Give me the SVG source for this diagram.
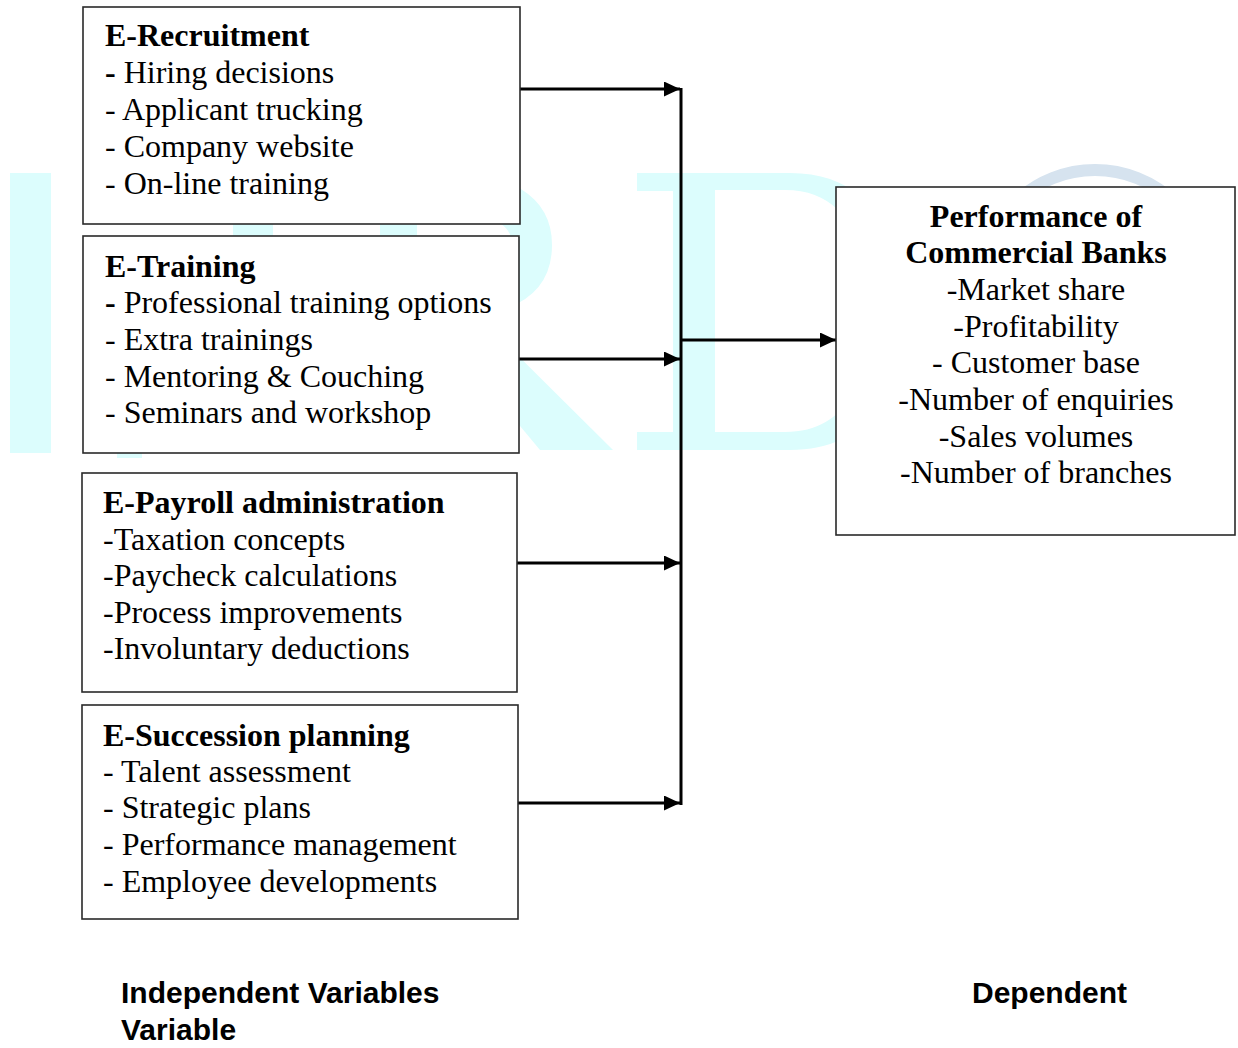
<svg xmlns="http://www.w3.org/2000/svg" width="1238" height="1048" viewBox="0 0 1238 1048">
  <style>
    .box { fill: #ffffff; stroke: #2a2a2a; stroke-width: 1.6; }
    .t { font-family: "Liberation Serif", "Times New Roman", serif; font-size: 32px; fill: #000; }
    .b { font-weight: bold; }
    .c { text-anchor: middle; }
    .lbl { font-family: "Liberation Sans", Arial, sans-serif; font-size: 30px; font-weight: bold; fill: #000; }
    .conn { stroke: #000; stroke-width: 3; fill: none; }
    .wm { fill: #dcfdfd; }
  </style>
  <defs>
    <marker id="arrow" markerUnits="userSpaceOnUse" markerWidth="17" markerHeight="16" refX="16" refY="7.5" orient="auto">
      <path d="M0,0 L16,7.5 L0,15 Z" fill="#000"/>
    </marker>
  </defs>
  <rect x="0" y="0" width="1238" height="1048" fill="#ffffff"/>

  <!-- background watermark -->
  <g id="watermark">
    <rect class="wm" x="10" y="173" width="41" height="280"/>
    <rect class="wm" x="233" y="176" width="40" height="70"/>
    <rect class="wm" x="380" y="176" width="37" height="70"/>
    <rect class="wm" x="117" y="440" width="25" height="18"/>
    <path d="M440 192 C505 192 532 212 532 245 C532 280 505 298 440 298" fill="none" stroke="#dcfdfd" stroke-width="40"/>
    <polygon class="wm" points="440,300 462,300 613,450 540,450 440,330"/>
    <path class="wm" fill-rule="evenodd" d="M637 173 L790 173 C870 173 905 235 905 311 C905 390 870 450 790 450 L637 450 L637 432 L673 432 L673 191 L637 191 Z M715 190 L785 190 C850 190 870 250 870 311 C870 375 850 432 785 432 L715 432 Z"/>
    <circle cx="1095" cy="285" r="115" fill="none" stroke="#d6e3ef" stroke-width="12"/>
  </g>

  <g id="connectors">
    <line class="conn" x1="681" y1="88" x2="681" y2="805" stroke-width="2.5"/>
    <line class="conn" x1="520" y1="89" x2="680" y2="89" marker-end="url(#arrow)"/>
    <line class="conn" x1="519" y1="359" x2="680" y2="359" marker-end="url(#arrow)"/>
    <line class="conn" x1="517" y1="563" x2="680" y2="563" marker-end="url(#arrow)"/>
    <line class="conn" x1="518" y1="803" x2="680" y2="803" marker-end="url(#arrow)"/>
    <line class="conn" x1="681" y1="340" x2="836" y2="340" marker-end="url(#arrow)"/>
  </g>

  <g id="e-recruitment">
    <rect class="box" x="83" y="7" width="437" height="217"/>
    <text class="t b" x="105" y="46">E-Recruitment</text>
    <text class="t" x="105" y="83"><tspan class="b">-</tspan> Hiring decisions</text>
    <text class="t" x="105" y="120">- Applicant trucking</text>
    <text class="t" x="105" y="157">- Company website</text>
    <text class="t" x="105" y="194">- On-line training</text>
  </g>

  <g id="e-training">
    <rect class="box" x="83" y="236" width="436" height="217"/>
    <text class="t b" x="105" y="277">E-Training</text>
    <text class="t" x="105" y="313"><tspan class="b">-</tspan> Professional training options</text>
    <text class="t" x="105" y="350">- Extra trainings</text>
    <text class="t" x="105" y="387">- Mentoring &amp; Couching</text>
    <text class="t" x="105" y="423">- Seminars and workshop</text>
  </g>

  <g id="e-payroll">
    <rect class="box" x="82" y="473" width="435" height="219"/>
    <text class="t b" x="103" y="513">E-Payroll administration</text>
    <text class="t" x="103" y="550">-Taxation concepts</text>
    <text class="t" x="103" y="586">-Paycheck calculations</text>
    <text class="t" x="103" y="623">-Process improvements</text>
    <text class="t" x="103" y="659">-Involuntary deductions</text>
  </g>

  <g id="e-succession">
    <rect class="box" x="82" y="705" width="436" height="214"/>
    <text class="t b" x="103" y="746">E-Succession planning</text>
    <text class="t" x="103" y="782">- Talent assessment</text>
    <text class="t" x="103" y="818">- Strategic plans</text>
    <text class="t" x="103" y="855">- Performance management</text>
    <text class="t" x="103" y="892">- Employee developments</text>
  </g>

  <g id="performance">
    <rect class="box" x="836" y="187" width="399" height="348"/>
    <text class="t b c" x="1036" y="227">Performance of</text>
    <text class="t b c" x="1036" y="263">Commercial Banks</text>
    <text class="t c" x="1036" y="300">-Market share</text>
    <text class="t c" x="1036" y="337">-Profitability</text>
    <text class="t c" x="1036" y="373">- Customer base</text>
    <text class="t c" x="1036" y="410">-Number of enquiries</text>
    <text class="t c" x="1036" y="447">-Sales volumes</text>
    <text class="t c" x="1036" y="483">-Number of branches</text>
  </g>

  <g id="labels">
    <text class="lbl" x="121" y="1003">Independent Variables</text>
    <text class="lbl" x="121" y="1040">Variable</text>
    <text class="lbl" x="972" y="1003">Dependent</text>
  </g>
</svg>
